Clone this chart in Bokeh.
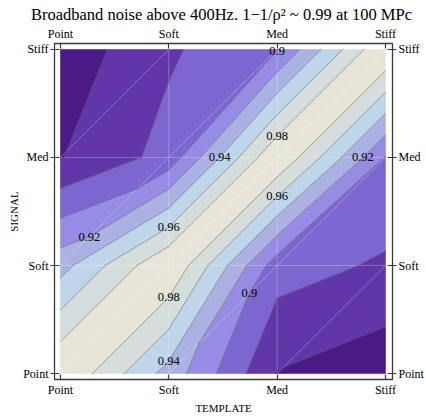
import numpy as np
from bokeh.plotting import figure
from bokeh.models import Range1d, LinearAxis, FixedTicker
from bokeh.core.properties import value
from bokeh.embed import file_html
from bokeh.resources import INLINE

# waveform families (template on x, signal on y)
models = ["Point", "Soft", "Med", "Stiff"]

# match (1 - 1/rho^2) between signal (rows) and template (columns)
match_point = [1.000, 0.932, 0.859, 0.847]
match_soft = [0.932, 1.000, 0.889, 0.877]
match_med = [0.859, 0.887, 1.000, 0.899]
match_stiff = [0.847, 0.877, 0.899, 1.000]

levels = [0.86, 0.88, 0.90, 0.92, 0.94, 0.96, 0.98]
band_colors = ["#4b1a86", "#6036a8", "#7c66cf", "#978ce4",
               "#abb2e3", "#bfd5e9", "#d5dedc", "#e7e5d8"]

# labelled contours: (level, grid segment start, grid segment end)
label_specs = [
    (0.90, (2, 2), (2, 3)), (0.98, (2, 2), (2, 3)), (0.96, (2, 1), (2, 2)),
    (0.94, (1, 2), (2, 2)), (0.92, (2, 2), (3, 2)), (0.96, (1, 1), (1, 2)),
    (0.92, (0, 1), (1, 2)), (0.98, (1, 0), (1, 1)), (0.94, (1, 0), (1, 1)),
    (0.90, (1, 0), (2, 1)),
]

Z = np.array([match_point, match_soft, match_med, match_stiff])  # Z[signal, template]
n = len(models)
SERIF = "Liberation Serif"


def fval(i, j):
    return Z[j, i]


# triangulate each grid cell along its rising diagonal
triangles = []
for i in range(n - 1):
    for j in range(n - 1):
        a = (i, j, fval(i, j))
        b = (i + 1, j, fval(i + 1, j))
        c = (i + 1, j + 1, fval(i + 1, j + 1))
        d = (i, j + 1, fval(i, j + 1))
        triangles.append([a, b, c])
        triangles.append([a, c, d])


def clip_half(poly, level, keep_above):
    out = []
    m = len(poly)
    for k in range(m):
        P, Q = poly[k], poly[(k + 1) % m]
        pin = P[2] >= level if keep_above else P[2] <= level
        qin = Q[2] >= level if keep_above else Q[2] <= level
        if pin:
            out.append(P)
        if pin != qin:
            t = (level - P[2]) / (Q[2] - P[2])
            out.append((P[0] + t * (Q[0] - P[0]), P[1] + t * (Q[1] - P[1]), level))
    return out


edges = [-np.inf] + levels + [np.inf]
pxs, pys, pcol = [], [], []
for tri in triangles:
    for b in range(len(band_colors)):
        poly = tri
        if np.isfinite(edges[b]):
            poly = clip_half(poly, edges[b], True)
        if len(poly) >= 3 and np.isfinite(edges[b + 1]):
            poly = clip_half(poly, edges[b + 1], False)
        if len(poly) >= 3:
            pxs.append([p[0] for p in poly])
            pys.append([p[1] for p in poly])
            pcol.append(band_colors[b])

# contour line segments
lxs, lys = [], []
for tri in triangles:
    for lev in levels:
        pts = []
        for k in range(3):
            P, Q = tri[k], tri[(k + 1) % 3]
            if (P[2] - lev) * (Q[2] - lev) < 0:
                t = (lev - P[2]) / (Q[2] - P[2])
                pts.append((P[0] + t * (Q[0] - P[0]), P[1] + t * (Q[1] - P[1])))
        if len(pts) == 2:
            lxs.append([pts[0][0], pts[1][0]])
            lys.append([pts[0][1], pts[1][1]])

# faint mesh: interior grid lines and cell diagonals
mxs, mys = [], []
for k in range(1, n - 1):
    mxs.append([k, k]); mys.append([0, n - 1])
    mxs.append([0, n - 1]); mys.append([k, k])
for i in range(n - 1):
    for j in range(n - 1):
        mxs.append([i, i + 1]); mys.append([j, j + 1])

# contour label positions on their grid segments
tx, ty, tt = [], [], []
for lev, (i0, j0), (i1, j1) in label_specs:
    f0, f1 = fval(i0, j0), fval(i1, j1)
    t = (lev - f0) / (f1 - f0)
    tx.append(i0 + t * (i1 - i0))
    ty.append(j0 + t * (j1 - j0))
    tt.append(f"{lev:g}")

pad = 0.055
p = figure(width=426, height=416, output_backend="svg", toolbar_location=None,
           x_range=Range1d(-pad, n - 1 + pad + 0.01), y_range=Range1d(-pad, n - 1 + pad),
           min_border_left=54, min_border_right=32, min_border_top=43, min_border_bottom=34,
           x_axis_location=None, y_axis_location=None)
p.background_fill_color = "white"
p.border_fill_color = "white"
p.grid.visible = False
p.outline_line_color = "#3a3a3a"
p.outline_line_width = 1.3

p.patches(pxs, pys, fill_color=pcol, line_color=pcol, line_width=0.6)
p.multi_line(mxs, mys, line_color="white", line_alpha=0.3, line_width=0.8)
p.multi_line(lxs, lys, line_color="#505050", line_alpha=0.65, line_width=0.75,
             line_cap="round")
p.text(tx, ty, text=tt, text_font=value(SERIF), text_font_size="12.5px",
       text_align="center", text_baseline="middle", text_color="black")

overrides = {k: name for k, name in enumerate(models)}


def make_axis(side):
    ax = LinearAxis(ticker=FixedTicker(ticks=list(range(n))))
    ax.major_label_overrides = overrides
    ax.minor_tick_line_color = None
    ax.axis_line_color = "#3a3a3a"
    ax.major_tick_line_color = "#3a3a3a"
    ax.major_tick_line_width = 1.2
    ax.major_label_text_font = SERIF
    ax.major_label_text_font_size = "12px"
    ax.major_label_text_color = "black"
    ax.axis_label_text_font = SERIF
    ax.axis_label_text_font_style = "normal"
    ax.axis_label_text_font_size = "11px"
    ax.axis_label_text_color = "black"
    if side in ("left", "right"):
        ax.major_tick_in = 5
        ax.major_tick_out = 4
        ax.major_label_standoff = 2
        ax.major_label_orientation = "horizontal"
    else:
        ax.major_tick_in = 5
        ax.major_tick_out = 0
        ax.major_label_standoff = 3
    return ax


bottom = make_axis("below")
bottom.axis_label = "TEMPLATE"
bottom.axis_label_standoff = 2
left = make_axis("left")
left.axis_label = "SIGNAL"
left.axis_label_standoff = 0
p.add_layout(bottom, "below")
p.add_layout(left, "left")
p.add_layout(make_axis("above"), "above")
p.add_layout(make_axis("right"), "right")

p.title.text = "Broadband noise above 400Hz.  1\u22121/\u03c1\u00b2 ~ 0.99 at 100 MPc"
p.title.align = "center"
p.title.text_font = SERIF
p.title.text_font_style = "normal"
p.title.text_font_size = "16.5px"
p.title.text_color = "black"
p.title.standoff = 0
p.title.offset = 0

open("out.html", "w").write(file_html(p, INLINE))
